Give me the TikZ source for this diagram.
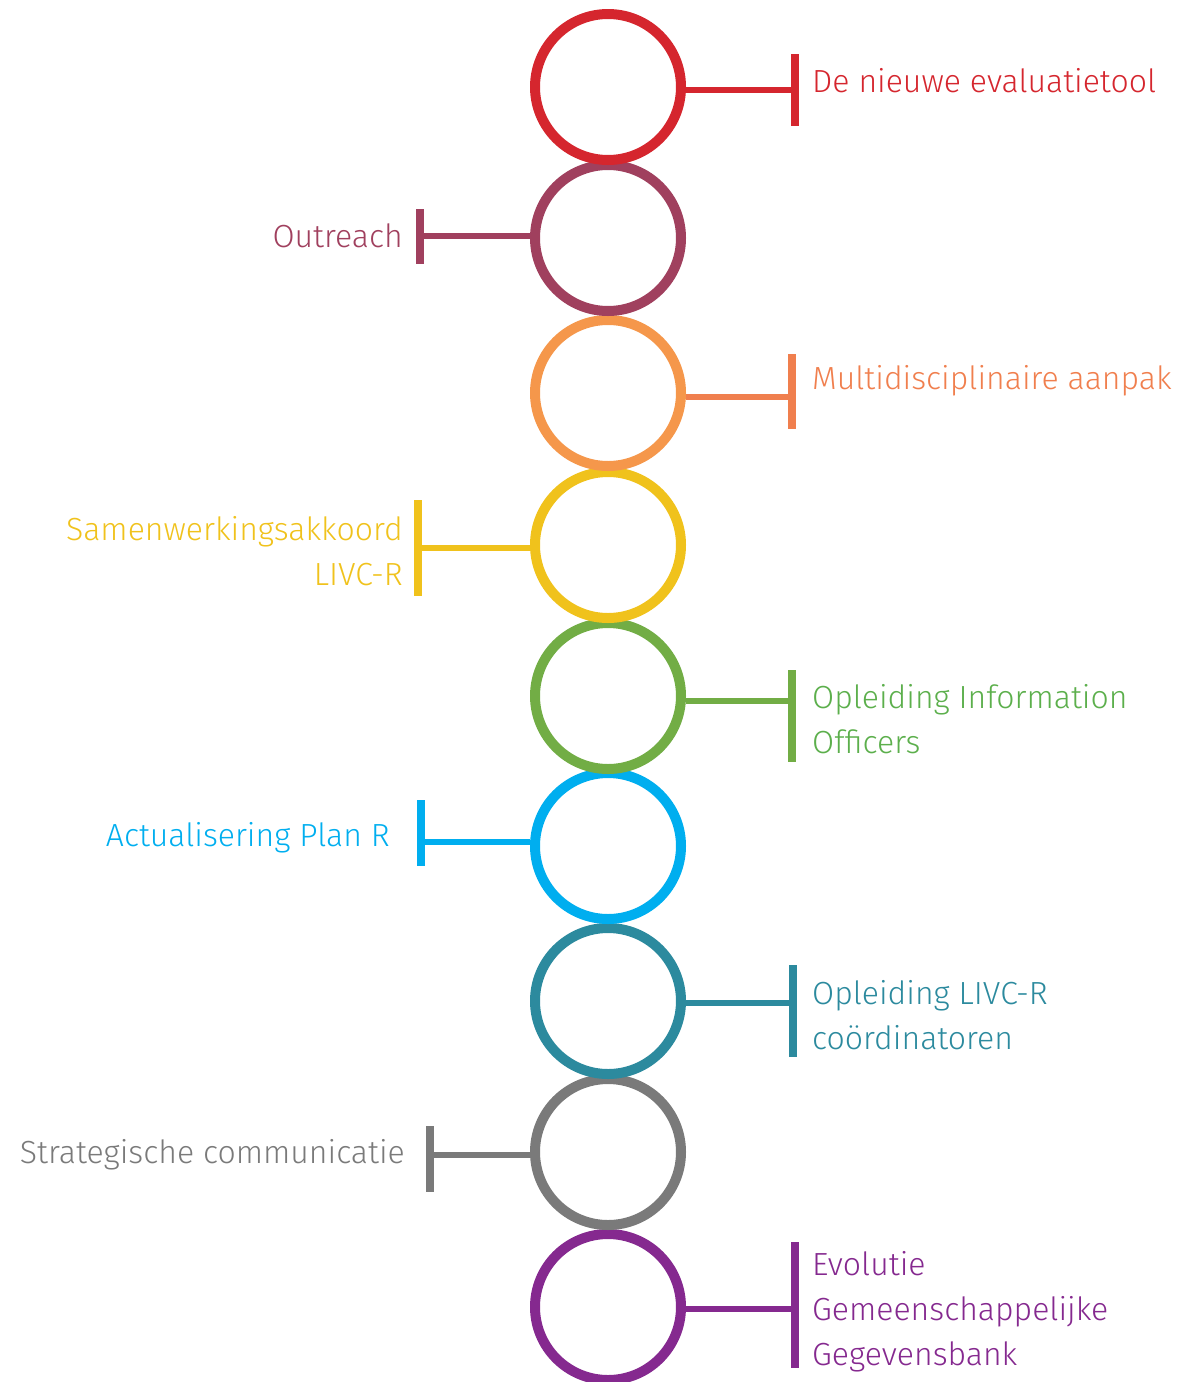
\documentclass[tikz,border=0pt]{standalone}
\usepackage{fontspec}
\setmainfont{Fira Sans}[UprightFont={* Light}]
\usetikzlibrary{positioning}

\definecolor{cRed}{HTML}{D5262E}
\definecolor{cPlum}{HTML}{A0405E}
\definecolor{cOrange}{HTML}{F5974B}
\definecolor{cOrangeT}{HTML}{F07F4E}
\definecolor{cYellow}{HTML}{F0C21C}
\definecolor{cGreen}{HTML}{72AD45}
\definecolor{cGreenT}{HTML}{5CAF4C}
\definecolor{cBlue}{HTML}{00AEEF}
\definecolor{cTeal}{HTML}{2C8A9E}
\definecolor{cGray}{HTML}{7A7A7A}
\definecolor{cPurple}{HTML}{85298F}

\tikzset{
  ring/.style={circle, draw=#1, line width=10pt, minimum size=146pt, inner sep=0pt},
  bar/.style={fill=#1, minimum width=8pt, inner sep=0pt, outer sep=0pt},
  link/.style={draw=#1, line width=6pt},
  lbl/.style={text=#1, font=\fontsize{32}{45}\selectfont, inner sep=0pt}
}

\begin{document}
\begin{tikzpicture}[x=1pt,y=-1pt]
\useasboundingbox (0,0) rectangle (1182,1382);

% rings, from the bottom up so the upper ones lie on top
\node[ring=cPurple] (c9) at (608,1307) {};
\node[ring=cGray]   (c8) at (608,1152) {};
\node[ring=cTeal]   (c7) at (608,1001) {};
\node[ring=cBlue]   (c6) at (608,846) {};
\node[ring=cGreen]  (c5) at (608,696) {};
\node[ring=cYellow] (c4) at (608,545) {};
\node[ring=cOrange] (c3) at (608,393) {};
\node[ring=cPlum]   (c2) at (608,238) {};
\node[ring=cRed]    (c1) at (608,87) {};

% bars
\node[bar=cRed, minimum height=72pt]     (b1) at (795,90) {};
\node[bar=cPlum, minimum height=55pt]    (b2) at (420,236) {};
\node[bar=cOrangeT, minimum height=75pt] (b3) at (792,391) {};
\node[bar=cYellow, minimum height=96pt]  (b4) at (418,548) {};
\node[bar=cGreen, minimum height=92pt]   (b5) at (792,716) {};
\node[bar=cBlue, minimum height=66pt]    (b6) at (421,833) {};
\node[bar=cTeal, minimum height=92pt]    (b7) at (793,1011) {};
\node[bar=cGray, minimum height=66pt]    (b8) at (430,1159) {};
\node[bar=cPurple, minimum height=126pt] (b9) at (795,1305) {};

% connectors
\draw[link=cRed]     (c1.east |- b1) -- (b1);
\draw[link=cPlum]    (b2) -- (c2.west |- b2);
\draw[link=cOrangeT] (c3.east |- 0,397) -- (b3.west |- 0,397);
\draw[link=cYellow]  (b4) -- (c4.west |- b4);
\draw[link=cGreen]   (c5.east |- 0,701) -- (b5.west |- 0,701);
\draw[link=cBlue]    (b6.east |- 0,842) -- (c6.west |- 0,842);
\draw[link=cTeal]    (c7.east |- 0,1003) -- (b7.west |- 0,1003);
\draw[link=cGray]    (b8.east |- 0,1155) -- (c8.west |- 0,1155);
\draw[link=cPurple]  (c9.east |- 0,1309) -- (b9.west |- 0,1309);

% labels
\node[lbl=cRed, right=13pt of b1, yshift=9pt] (t1) {De nieuwe evaluatietool};
\node[lbl=cPlum, left=13pt of b2] (t2) {Outreach};
\node[lbl=cOrangeT, right=16pt of b3, yshift=10pt] (t3) {Multidisciplinaire aanpak};
\node[lbl=cYellow, align=right, left=11pt of b4, yshift=-3pt] (t4) {Samenwerkingsakkoord\\LIVC-R};
\node[lbl=cGreenT, align=left, right=16pt of b5, yshift=-3pt] (t5) {Opleiding Information\\Officers};
\node[lbl=cBlue, left=27pt of b6, yshift=-5pt] (t6) {Actualisering Plan R};
\node[lbl=cTeal, align=left, right=15pt of b7, yshift=-4pt] (t7) {Opleiding LIVC-R\\coördinatoren};
\node[lbl=cGray, left=21pt of b8, yshift=4pt] (t8) {Strategische communicatie};
\node[lbl=cPurple, align=left, right=13pt of b9, yshift=-7pt] (t9) {Evolutie\\Gemeenschappelijke\\Gegevensbank};
\end{tikzpicture}
\end{document}
